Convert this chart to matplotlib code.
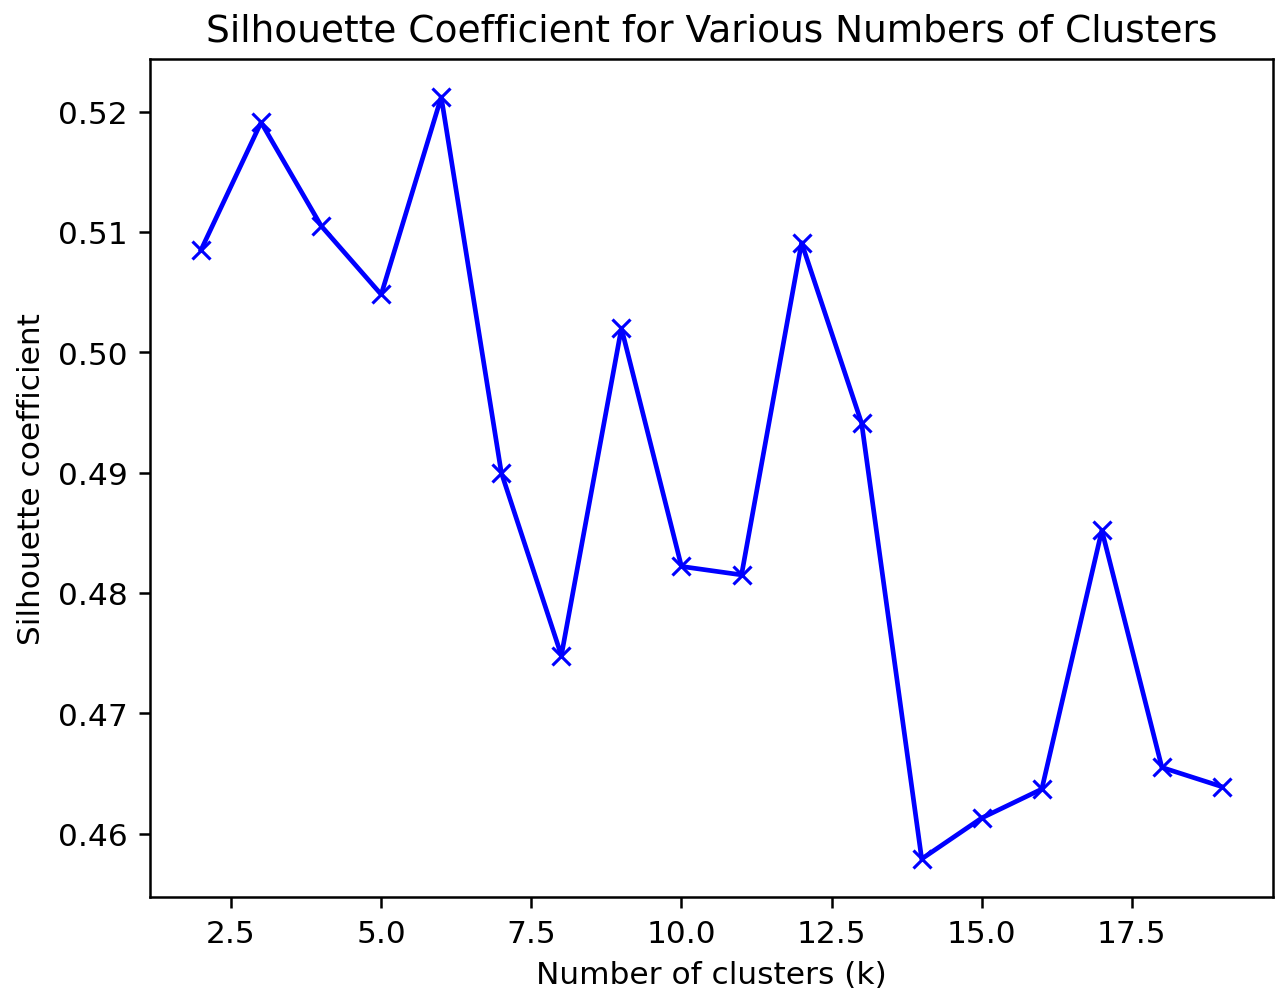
import matplotlib
matplotlib.use("Agg")
import matplotlib.pyplot as plt

# silhouette score for each k tried
k_values = list(range(2, 20))
silhouette_scores = [0.5085, 0.5191, 0.5105, 0.5048, 0.5212, 0.4900, 0.4748, 0.5020, 0.4822,
                     0.4815, 0.5091, 0.4941, 0.4579, 0.4613, 0.4637, 0.4852, 0.4655, 0.4639]

DPI = 225
fig = plt.figure(figsize=(1275 / DPI, 998 / DPI), dpi=DPI)
ax = fig.add_axes([150 / 1275, 100 / 998, 1123 / 1275, 838 / 998])

ax.plot(k_values, silhouette_scores, 'bx-')
ax.set_xlabel('Number of clusters (k)')
ax.set_ylabel('Silhouette coefficient')
ax.set_title('Silhouette Coefficient for Various Numbers of Clusters')

fig.savefig('out.png', dpi=DPI)
